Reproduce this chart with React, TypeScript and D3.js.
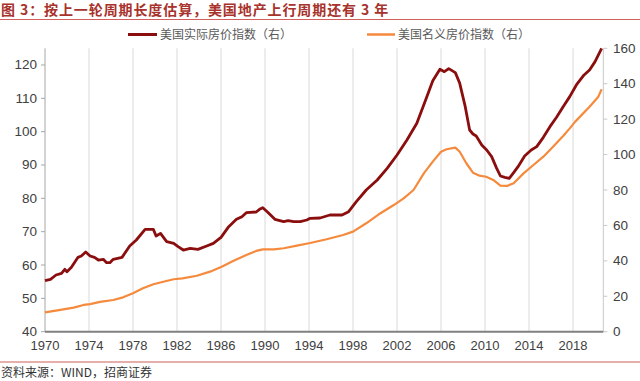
import React from "react";
import * as d3 from "d3";

const realYears = [1970.0,1970.5,1971.0,1971.5,1971.8,1972.0,1972.4,1973.0,1973.3,1973.7,1974.1,1974.5,1974.85,1975.3,1975.6,1975.9,1976.2,1977.0,1977.7,1978.3,1979.1,1979.85,1980.1,1980.5,1981.06,1981.7,1982.1,1982.57,1983.2,1983.9,1984.7,1985.3,1986.0,1986.7,1987.4,1987.9,1988.3,1989.2,1989.5,1989.8,1990.2,1990.9,1991.7,1992.1,1992.6,1993.2,1993.8,1994.1,1995.0,1995.9,1997.0,1997.6,1998.3,1999.2,2000.2,2001.1,2002.0,2002.9,2003.8,2004.6,2005.25,2005.9,2006.3,2006.7,2007.3,2007.7,2008.2,2008.6,2008.9,2009.2,2009.7,2010.15,2010.6,2011.06,2011.4,2011.8,2012.2,2012.6,2013.0,2013.6,2014.2,2014.7,2015.3,2015.9,2016.5,2017.1,2017.7,2018.3,2019.0,2019.5,2020.0,2020.6];
const realValues = [55.3,55.7,57.0,57.5,58.7,58.0,59.3,62.3,62.7,63.9,62.7,62.3,61.5,61.7,60.7,60.7,61.7,62.3,65.7,67.5,70.7,70.7,68.7,69.5,67.0,66.5,65.5,64.5,65.0,64.7,65.7,66.5,68.3,71.5,73.7,74.5,75.7,75.9,76.7,77.2,76.0,73.7,73.0,73.3,73.0,73.0,73.5,74.0,74.1,75.0,75.0,76.0,79.0,82.5,85.5,89.0,93.0,97.5,102.5,109.5,115.3,118.7,118.0,118.9,117.7,114.5,107.5,100.5,99.3,98.7,96.0,94.5,92.5,89.0,86.7,86.3,86.0,87.7,89.5,92.7,94.5,95.5,98.3,101.5,104.3,107.5,110.5,114.0,117.0,118.5,121.0,125.0];

const nomYears = [1970.0,1971.4,1972.6,1973.5,1974.1,1975.0,1976.2,1977.1,1978.0,1978.9,1979.85,1980.75,1981.7,1982.5,1983.8,1985.0,1986.06,1987.1,1988.3,1989.2,1989.8,1990.8,1991.7,1992.9,1994.1,1995.6,1997.1,1998.0,1999.2,2000.5,2001.7,2002.6,2003.5,2004.45,2005.25,2006.0,2006.5,2007.3,2007.7,2008.3,2008.9,2009.5,2010.1,2010.75,2011.4,2012.0,2012.6,2013.5,2014.4,2015.3,2016.2,2017.1,2017.7,2018.2,2019.5,2020.3,2020.6];
const nomValues = [10.9,12.3,13.6,15.1,15.6,16.8,17.9,19.4,21.7,24.5,26.8,28.2,29.6,30.1,31.6,33.9,36.7,39.9,43.3,45.6,46.5,46.5,47.1,48.6,50.1,52.2,54.6,56.5,61.2,66.9,71.5,75.3,80.0,89.5,96.0,101.6,103.0,103.9,101.6,95.1,89.8,88.1,87.5,85.7,82.5,82.3,83.8,89.4,94.1,98.8,104.5,110.5,114.8,118.6,127.0,132.7,136.9];

const xTickYears = [1970,1974,1978,1982,1986,1990,1994,1998,2002,2006,2010,2014,2018];
const leftTicks = [40,50,60,70,80,90,100,110,120];
const rightTicks = [0,20,40,60,80,100,120,140,160];

const title = "图 3：按上一轮周期长度估算，美国地产上行周期还有 3 年";
const seriesNames = ["美国实际房价指数（右）", "美国名义房价指数（右）"];
const source = "资料来源：WIND，招商证券";

const RED = "#8B0E0E";
const ORANGE = "#F58A3C";

export default function App() {
  const left = 45, right = 603.3, top = 48.3, bottom = 331.7;
  const x = d3.scaleLinear().domain([1970, 2020.75]).range([left, right]);
  const yL = d3.scaleLinear().domain([40, 125]).range([bottom, top]);
  const yR = d3.scaleLinear().domain([0, 160]).range([bottom, top]);

  const realData = realYears.map((yr, i) => [yr, realValues[i]] as [number, number]);
  const nomData = nomYears.map((yr, i) => [yr, nomValues[i]] as [number, number]);

  const realLine = d3.line<[number, number]>().x(d => x(d[0])).y(d => yL(d[1]));
  const nomLine = d3.line<[number, number]>().x(d => x(d[0])).y(d => yR(d[1]));

  const numFont = "'Liberation Sans', Arial, sans-serif";
  const cjkFont = "'Noto Sans CJK SC', sans-serif";

  return (
    <svg width={640} height={381} style={{ position: "absolute", left: 0, top: 0, background: "#fff" }}>
      <rect x={0} y={0} width={640} height={381} fill="#fff" />
      <text x={1} y={15} fontFamily={cjkFont} fontWeight="bold" fontSize={14} letterSpacing={0.9} fill="#A8322C">{title}</text>
      <line x1={0} x2={640} y1={19.5} y2={19.5} stroke="#D0605A" strokeWidth={1.2} />

      {/* legend */}
      <line x1={128} x2={157} y1={34.5} y2={34.5} stroke={RED} strokeWidth={3} />
      <text x={160} y={39} fontFamily={cjkFont} fontSize={12} fill="#595959">{seriesNames[0]}</text>
      <line x1={367} x2={395} y1={34.5} y2={34.5} stroke={ORANGE} strokeWidth={2.5} />
      <text x={398} y={39} fontFamily={cjkFont} fontSize={12} fill="#595959">{seriesNames[1]}</text>

      {/* gridlines */}
      {xTickYears.slice(1).map(yr => (
        <line key={yr} x1={x(yr)} x2={x(yr)} y1={top} y2={bottom} stroke="#D9D9D9" strokeWidth={1} />
      ))}

      {/* left axis */}
      <line x1={left} x2={left} y1={top} y2={bottom} stroke="#A6A6A6" strokeWidth={1} />
      {leftTicks.map(v => (
        <g key={v}>
          <line x1={left - 4} x2={left} y1={yL(v)} y2={yL(v)} stroke="#A6A6A6" />
          <text x={37} y={yL(v) + 4.5} textAnchor="end" fontFamily={numFont} fontSize={13.5} fill="#404040">{v}</text>
        </g>
      ))}

      {/* right axis */}
      <line x1={right} x2={right} y1={top} y2={bottom} stroke="#C8C8C8" strokeWidth={1} />
      {rightTicks.map(v => (
        <g key={v}>
          <line x1={right} x2={right + 4} y1={yR(v)} y2={yR(v)} stroke="#C8C8C8" />
          <text x={613} y={yR(v) + 4.5} textAnchor="start" fontFamily={numFont} fontSize={13.5} fill="#404040">{v}</text>
        </g>
      ))}

      {/* bottom axis */}
      <line x1={left} x2={right} y1={bottom} y2={bottom} stroke="#808080" strokeWidth={2} />
      {xTickYears.map(yr => (
        <text key={yr} x={x(yr)} y={350} textAnchor="middle" fontFamily={numFont} fontSize={13} fill="#404040">{yr}</text>
      ))}

      {/* series */}
      <path d={nomLine(nomData) || ""} fill="none" stroke={ORANGE} strokeWidth={2.2} strokeLinejoin="round" />
      <path d={realLine(realData) || ""} fill="none" stroke={RED} strokeWidth={2.8} strokeLinejoin="round" />

      {/* footer */}
      <line x1={0} x2={640} y1={362} y2={362} stroke="#D0605A" strokeWidth={1.2} />
      <text x={1} y={377} fontFamily={cjkFont} fontSize={12} fill="#333">{source}</text>
    </svg>
  );
}
